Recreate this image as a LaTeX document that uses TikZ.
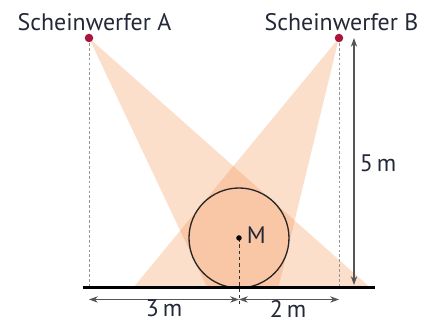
\documentclass[tikz,border=0pt]{standalone}
\usepackage{fontspec}
\setmainfont{PT Sans}
\usetikzlibrary{arrows.meta}
\definecolor{lightcone}{RGB}{252,223,202}
\definecolor{darkcone}{RGB}{249,198,166}
\definecolor{spot}{RGB}{170,20,60}
\definecolor{txt}{RGB}{35,40,55}
\definecolor{dimc}{RGB}{85,85,85}
\definecolor{guide}{RGB}{150,150,150}
\tikzset{
  lbl/.style={font=\fontsize{13.6}{16}\selectfont, text=txt, inner sep=0pt},
  spotdot/.style={circle, fill=spot, inner sep=0pt, minimum size=0.17cm},
  mdot/.style={circle, fill=black, inner sep=0pt, minimum size=0.11cm},
  ball/.style={circle, draw=black!85, line width=0.75pt, inner sep=0pt, minimum size=2cm},
  guideline/.style={draw=guide, line width=0.5pt, dash pattern=on 1.6pt off 1.2pt},
  mline/.style={draw=black!80, line width=0.5pt, dash pattern=on 2pt off 1.6pt},
  dimline/.style={draw=dimc, line width=0.8pt, {Stealth[length=5pt,width=3.6pt]}-{Stealth[length=5pt,width=3.6pt]}},
  ground/.style={draw=black, line width=1.7pt}
}
\begin{document}
\begin{tikzpicture}[x=1cm,y=1cm]
\useasboundingbox (-1.78,-0.68) rectangle (6.78,5.76);
% light sources and ground points of the light cones
\coordinate (A) at (0,5);
\coordinate (B) at (5,5);
\coordinate (A1) at (2.3667,0);
\coordinate (A2) at (5.634,0);
\coordinate (B1) at (0.8787,0);
\coordinate (B2) at (3.7863,0);
% cones
\fill[lightcone] (A) -- (A1) -- (A2) -- cycle;
\fill[lightcone] (B) -- (B1) -- (B2) -- cycle;
\begin{scope}
  \clip (A) -- (A1) -- (A2) -- cycle;
  \fill[darkcone] (B) -- (B1) -- (B2) -- cycle;
\end{scope}
% guide lines
\coordinate (A0) at (0,0);
\coordinate (B0) at (5,0);
\draw[guideline] (A) -- (A0);
\draw[guideline] (B) -- (B0);
% ball
\node[ball] (ball) at (3,1) {};
\coordinate (Mlow) at (3,-0.32);
\draw[mline] (ball.center) -- (Mlow);
\node[mdot] (M) at (3,1) {};
\node[lbl, anchor=west] (Mlbl) at (3.15,1.06) {M};
% ground
\coordinate (G0) at (-0.12,0);
\coordinate (G1) at (5.72,0);
\draw[ground] (G0) -- (G1);
% spotlights
\node[spotdot] (SA) at (A) {};
\node[spotdot] (SB) at (B) {};
\node[lbl] (LA) at (0.11,5.32) {Scheinwerfer A};
\node[lbl] (LB) at (5.05,5.32) {Scheinwerfer B};
% dimensions
\coordinate (D0) at (0,-0.23);
\coordinate (D3) at (3,-0.23);
\coordinate (D5) at (5,-0.23);
\draw[dimline] (D0) -- (D3);
\draw[dimline] (D3) -- (D5);
\node[lbl] (L3) at (1.5,-0.41) {3\,m};
\node[lbl] (L2) at (3.98,-0.41) {2\,m};
\coordinate (V5) at (5.3,5);
\coordinate (V0) at (5.3,0.06);
\draw[dimline] (V5) -- (V0);
\node[lbl] (L5) at (5.78,2.5) {5\,m};
\end{tikzpicture}
\end{document}
